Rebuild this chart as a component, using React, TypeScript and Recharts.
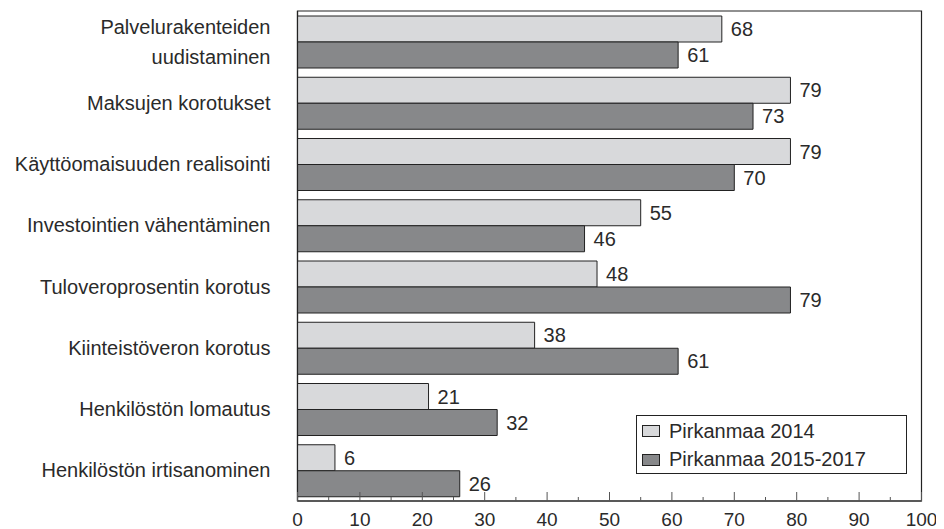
import React from 'react';
import { BarChart, Bar, XAxis, YAxis, LabelList, ReferenceArea, Legend } from 'recharts';

const categories = [
  'Palvelurakenteiden\nuudistaminen',
  'Maksujen korotukset',
  'Käyttöomaisuuden realisointi',
  'Investointien vähentäminen',
  'Tuloveroprosentin korotus',
  'Kiinteistöveron korotus',
  'Henkilöstön lomautus',
  'Henkilöstön irtisanominen',
];
const values2014 = [68, 79, 79, 55, 48, 38, 21, 6];
const values2015 = [61, 73, 70, 46, 79, 61, 32, 26];
const xTicks = [0, 5, 10, 15, 20, 25, 30, 35, 40, 45, 50, 55, 60, 65, 70, 75, 80, 85, 90, 95, 100];
const seriesNames = ['Pirkanmaa 2014', 'Pirkanmaa 2015-2017'];

const data = categories.map((name, i) => ({ name, a: values2014[i], b: values2015[i] }));

const FONT = '"Liberation Sans", Arial, sans-serif';
const TEXT = '#2a2a2a';
const LIGHT = '#d8d9db';
const DARK = '#87888a';
const LINE = '#222';
const FS = 20;

const YTick = (props: any) => {
  const { x, y, payload } = props;
  const lines = String(payload.value).split('\n');
  const lh = 30;
  const start = -((lines.length - 1) * lh) / 2;
  return (
    <g>
      {lines.map((l, i) => (
        <text key={i} x={x} y={y + start + i * lh + 7} textAnchor="end" fontSize={FS} fill={TEXT} fontFamily={FONT}>
          {l}
        </text>
      ))}
    </g>
  );
};

const XTick = (props: any) => {
  const { x, y, payload } = props;
  const v = Number(payload.value);
  const major = v % 10 === 0;
  return (
    <g>
      <line x1={x} x2={x} y1={y} y2={y - (major ? 9 : 4)} stroke="#555" strokeWidth={1} />
      {major && (
        <text x={x} y={y + 24.5} textAnchor="middle" fontSize={19} fill={TEXT} fontFamily={FONT}>
          {v}
        </text>
      )}
    </g>
  );
};

const LegendBox = () => (
  <div
    style={{
      boxSizing: 'border-box',
      width: 271,
      height: 59,
      border: `1.2px solid ${LINE}`,
      background: '#fff',
      fontFamily: FONT,
      fontSize: FS,
      color: TEXT,
      padding: '1px 0 0 5px',
    }}
  >
    {seriesNames.map((n, i) => (
      <div key={n} style={{ display: 'flex', alignItems: 'center', height: 28.5 }}>
        <span
          style={{
            display: 'inline-block',
            boxSizing: 'border-box',
            width: 18,
            height: 12,
            background: i === 0 ? LIGHT : DARK,
            border: `1px solid ${LINE}`,
            marginRight: 9,
          }}
        />
        <span>{n}</span>
      </div>
    ))}
  </div>
);

export default function App() {
  return (
    <div style={{ width: 944, height: 529, marginTop: -8, marginLeft: -8 }}>
      <BarChart
        width={944}
        height={529}
        data={data}
        layout="vertical"
        margin={{ top: 11, right: 22.5, left: 0, bottom: 0 }}
        barGap={0}
        style={{ fontFamily: FONT }}
      >
        <XAxis
          type="number"
          domain={[0, 100]}
          ticks={xTicks}
          interval={0}
          tickSize={0}
          tickMargin={0}
          tickLine={false}
          axisLine={{ stroke: LINE, strokeWidth: 1.2 }}
          tick={<XTick />}
          height={28}
        />
        <YAxis
          type="category"
          dataKey="name"
          width={297.5}
          tickSize={0}
          tickMargin={27}
          tickLine={false}
          axisLine={{ stroke: LINE, strokeWidth: 1.2 }}
          tick={<YTick />}
          interval={0}
        />
        <ReferenceArea x1={0} x2={100} fill="none" stroke={LINE} strokeWidth={1.2} ifOverflow="visible" />
        <Bar dataKey="a" name={seriesNames[0]} fill={LIGHT} stroke={LINE} strokeWidth={1} barSize={26} isAnimationActive={false}>
          <LabelList dataKey="a" position="right" offset={9} fontSize={FS} fill={TEXT} fontFamily={FONT} />
        </Bar>
        <Bar dataKey="b" name={seriesNames[1]} fill={DARK} stroke={LINE} strokeWidth={1} barSize={26} isAnimationActive={false}>
          <LabelList dataKey="b" position="right" offset={9} fontSize={FS} fill={TEXT} fontFamily={FONT} />
        </Bar>
        <Legend
          layout="vertical"
          align="center"
          verticalAlign="middle"
          wrapperStyle={{ left: 636, top: 415, width: 271, height: 59 }}
          content={<LegendBox />}
        />
      </BarChart>
    </div>
  );
}
